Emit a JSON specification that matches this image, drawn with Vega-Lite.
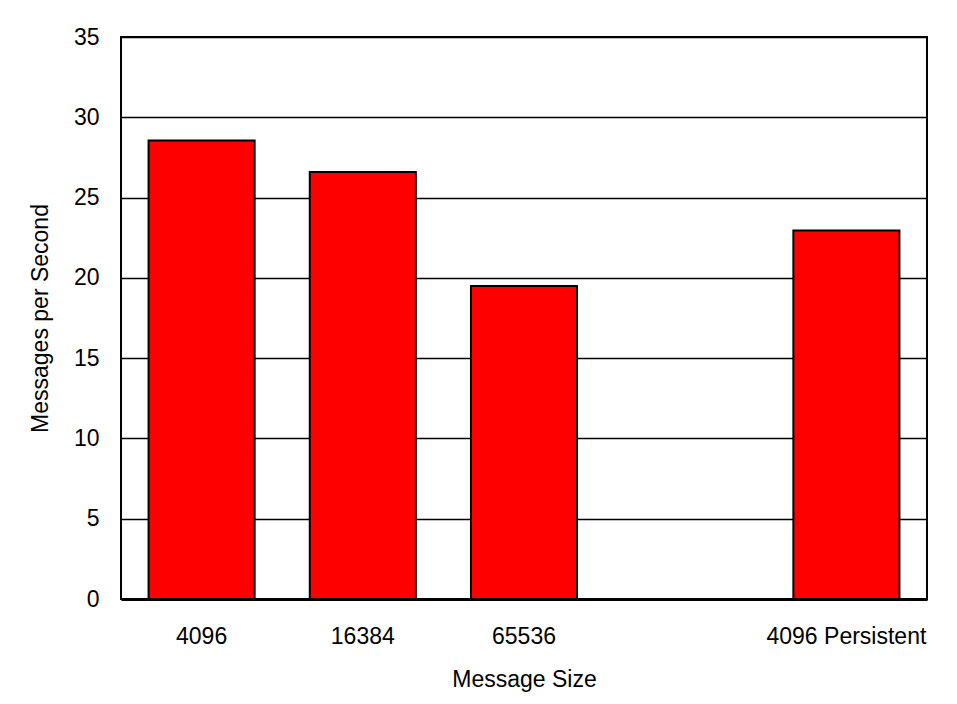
{
  "$schema": "https://vega.github.io/schema/vega-lite/v6.json",
  "width": 806,
  "height": 562,
  "autosize": {"type": "none"},
  "padding": {"left": 121, "top": 37, "right": 30, "bottom": 105},
  "background": "white",
  "config": {
    "font": "Liberation Sans",
    "view": {"stroke": "black", "strokeWidth": 2},
    "axis": {"labelFont": "Liberation Sans", "titleFont": "Liberation Sans", "labelColor": "black", "titleColor": "black"}
  },
  "data": {
    "values": [
      {"size": "4096", "rate": 28.55},
      {"size": "16384", "rate": 26.6},
      {"size": "65536", "rate": 19.5},
      {"size": "4096 Persistent", "rate": 22.95}
    ]
  },
  "mark": {"type": "bar", "color": "#ff0000", "stroke": "black", "strokeWidth": 2},
  "encoding": {
    "x": {
      "field": "size",
      "type": "nominal",
      "title": "Message Size",
      "scale": {"domain": ["4096", "16384", "65536", " ", "4096 Persistent"], "paddingInner": 0.342, "paddingOuter": 0.171},
      "axis": {
        "labelAngle": 0,
        "labelFontSize": 23,
        "titleFontSize": 23,
        "titleFontWeight": "normal",
        "ticks": false,
        "labelPadding": 26,
        "titlePadding": 20,
        "domainColor": "black",
        "domainWidth": 3
      }
    },
    "y": {
      "field": "rate",
      "type": "quantitative",
      "title": "Messages per Second",
      "scale": {"domain": [0, 35], "nice": false},
      "axis": {
        "values": [0, 5, 10, 15, 20, 25, 30, 35],
        "labelFontSize": 23,
        "titleFontSize": 23,
        "titleFontWeight": "normal",
        "ticks": false,
        "domain": false,
        "labelPadding": 22,
        "titlePadding": 21,
        "grid": true,
        "gridColor": "black",
        "gridWidth": 1.5,
        "gridOpacity": 1
      }
    }
  }
}
